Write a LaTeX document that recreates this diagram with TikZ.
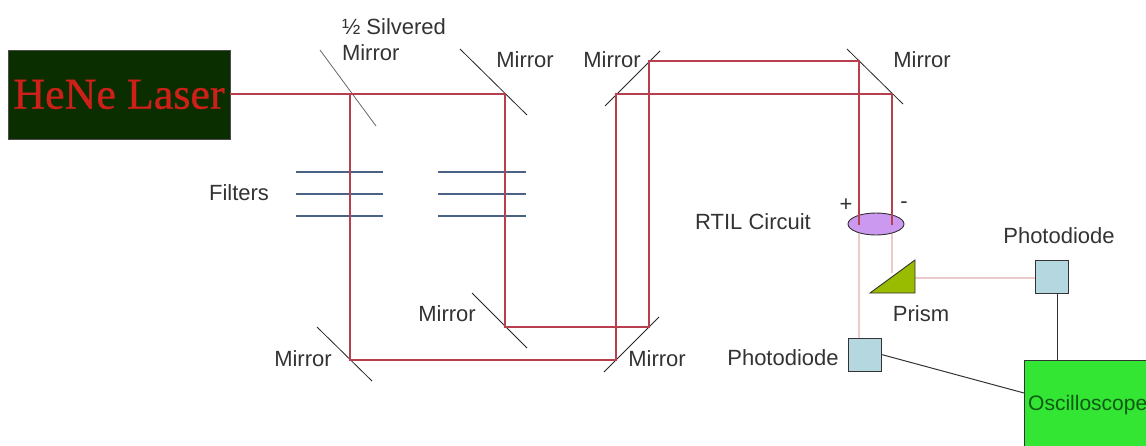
\documentclass[tikz,border=0pt]{standalone}
\usepackage{fontspec}
\setmainfont{Liberation Sans}
\newfontfamily\laserfont[FakeBold=0.7]{Liberation Serif}
\usetikzlibrary{shapes.geometric}
\definecolor{beamred}{HTML}{B8404E}
\definecolor{beampale}{HTML}{ECCACA}
\definecolor{filterblue}{HTML}{4A6285}
\definecolor{laserbg}{HTML}{0A2E00}
\definecolor{laserred}{HTML}{CC2018}
\definecolor{diodeblue}{HTML}{B5D8E0}
\definecolor{scopegreen}{HTML}{33E633}
\definecolor{scopetext}{HTML}{0F5A14}
\definecolor{prismgreen}{HTML}{99BB00}
\definecolor{rtilpurple}{HTML}{CC99F0}
\tikzset{
  lbl/.style={inner sep=0pt, text=black!80, font=\fontsize{22}{26}\selectfont},
  beam/.style={beamred, line width=1.2pt},
  palebeam/.style={beampale, line width=1.2pt},
  mirror/.style={black!85, line width=0.8pt},
  filter/.style={filterblue, line width=1.2pt},
  diode/.style={draw=black!80, fill=diodeblue, line width=0.9pt, minimum size=33pt, inner sep=0pt},
  wire/.style={black!80, line width=1pt},
}
\begin{document}
\begin{tikzpicture}[x=1pt, y=-1pt]
  \useasboundingbox (0,0) rectangle (1146,445);

  \draw (119,94.5) node[draw=black!70, fill=laserbg, minimum width=222pt, minimum height=89pt, inner sep=0pt, text=laserred, font=\laserfont\fontsize{44}{48}\selectfont] (laser) {HeNe Laser};

  \coordinate (hm1) at (320,50); \coordinate (hm2) at (376,126);
  \coordinate (ma1) at (460,49); \coordinate (ma2) at (527,115);
  \coordinate (mb1) at (605,106); \coordinate (mb2) at (660,51);
  \coordinate (mc1) at (847,49); \coordinate (mc2) at (903,104);
  \coordinate (md1) at (472,293); \coordinate (md2) at (527,348);
  \coordinate (me1) at (317,327); \coordinate (me2) at (372,381);
  \coordinate (mf1) at (604,372); \coordinate (mf2) at (659,317);
  \draw[mirror, black!60] (hm1) -- (hm2);
  \draw[mirror] (ma1) -- (ma2);
  \draw[mirror] (mb1) -- (mb2);
  \draw[mirror] (mc1) -- (mc2);
  \draw[mirror] (md1) -- (md2);
  \draw[mirror] (me1) -- (me2);
  \draw[mirror] (mf1) -- (mf2);

  \coordinate (fa1) at (296,172); \coordinate (fa2) at (383,172);
  \coordinate (fb1) at (296,194); \coordinate (fb2) at (383,194);
  \coordinate (fc1) at (296,216); \coordinate (fc2) at (383,216);
  \coordinate (fd1) at (438,172); \coordinate (fd2) at (526,172);
  \coordinate (fe1) at (438,194); \coordinate (fe2) at (526,194);
  \coordinate (ff1) at (438,216); \coordinate (ff2) at (526,216);
  \draw[filter] (fa1) -- (fa2); \draw[filter] (fb1) -- (fb2);
  \draw[filter] (fc1) -- (fc2); \draw[filter] (fd1) -- (fd2);
  \draw[filter] (fe1) -- (fe2); \draw[filter] (ff1) -- (ff2);

  \draw (859,338) coordinate (ld1);
  \draw (1035,278) coordinate (ld2);
  \draw (915,278) coordinate (prismr);
  \draw (892,273) coordinate (prismt);
  \draw (859,225) coordinate (rc1);
  \draw (892,225) coordinate (rc2);

  \draw[palebeam] (rc1) -- (ld1);
  \draw[palebeam] (rc2) -- (prismt);
  \draw[palebeam] (prismr) -- (ld2);

  \draw (876,224) node[ellipse, draw=black!80, fill=rtilpurple, line width=0.9pt, minimum width=56pt, minimum height=22pt, inner sep=0pt] (rtil) {};
  \draw[draw=black!80, fill=prismgreen, line width=0.9pt] (870,293) coordinate (pa) -- (915,293) coordinate (pb) -- (915,260) coordinate (pc) -- cycle;

  \coordinate (b1) at (350,94); \coordinate (b2) at (505,94);
  \coordinate (b3) at (350,360); \coordinate (b4) at (616,360);
  \coordinate (b5) at (616,94); \coordinate (b6) at (892,94);
  \coordinate (b7) at (505,327); \coordinate (b8) at (649,327);
  \coordinate (b9) at (649,61); \coordinate (b10) at (859,61);
  \draw[beam] (laser.east |- b1) -- (b2) -- (b7) -- (b8) -- (b9) -- (b10) -- (rc1);
  \draw[beam] (b1) -- (b3) -- (b4) -- (b5) -- (b6) -- (rc2);

  \draw (1051.5,276.5) node[diode] (pdb) {};
  \draw (864.5,354.5) node[diode] (pda) {};
  \draw (1087,405) node[draw=black!80, fill=scopegreen, minimum width=126pt, minimum height=90pt, inner sep=0pt] (scope) {};
  \draw (1028,405) node[lbl, anchor=west, text=scopetext, font=\fontsize{21}{25}\selectfont] (scopelab) {Oscilloscope};
  \coordinate (scopet) at (1057,360);
  \coordinate (scopel) at (1024,393);
  \draw[wire] (pdb.south -| scopet) -- (scopet);
  \draw[wire] (pda.east) -- (scopel);

  \draw (394,40) node[lbl, align=left] (hmlab) {½ Silvered\\Mirror};
  \draw (525,60) node[lbl] (malab) {Mirror};
  \draw (612,60) node[lbl] (mblab) {Mirror};
  \draw (922,60) node[lbl] (mclab) {Mirror};
  \draw (447,314) node[lbl] (mdlab) {Mirror};
  \draw (303,359) node[lbl] (melab) {Mirror};
  \draw (657,359) node[lbl] (mflab) {Mirror};
  \draw (239,193) node[lbl] (filtlab) {Filters};
  \draw (753,222) node[lbl] (rtillab) {RTIL Circuit};
  \draw (846,205) node[lbl] (plus) {+};
  \draw (904,205) node[lbl] (minus) {-};
  \draw (1059,236) node[lbl] (pdblab) {Photodiode};
  \draw (921,314) node[lbl] (prismlab) {Prism};
  \draw (783,358) node[lbl] (pdalab) {Photodiode};
\end{tikzpicture}
\end{document}
